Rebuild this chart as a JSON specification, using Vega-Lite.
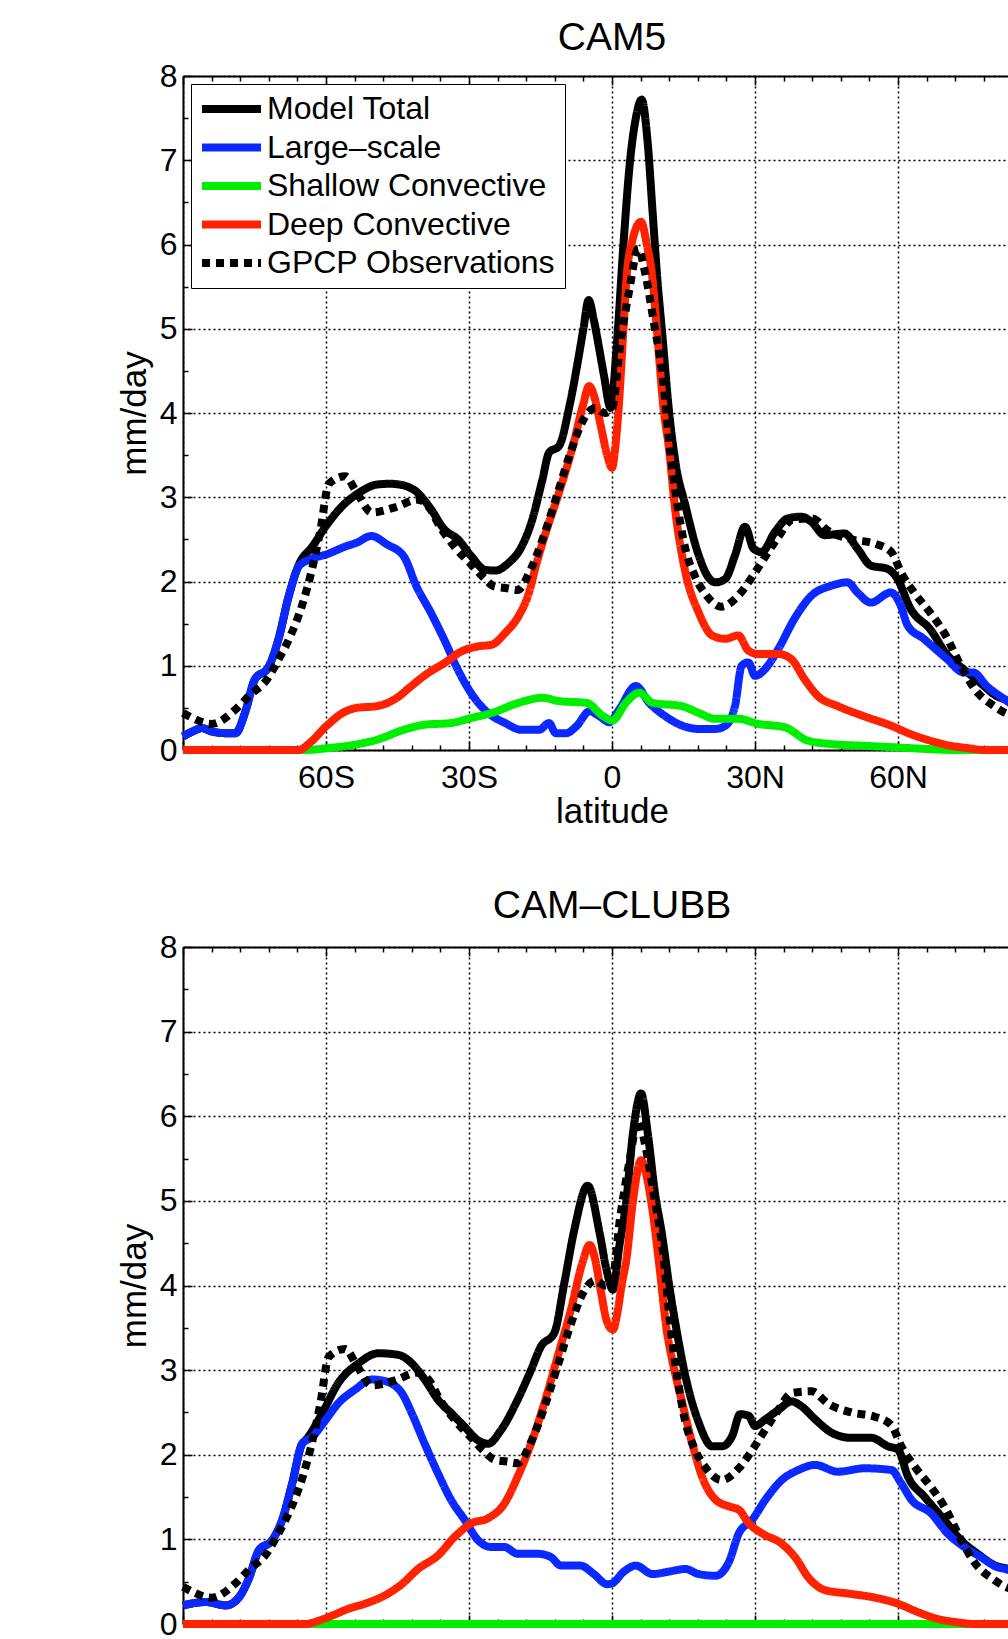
{
  "$schema": "https://vega.github.io/schema/vega-lite/v6.json",
  "background": "white",
  "padding": {"left": 117, "top": 19, "right": 0, "bottom": 0},
  "config": {
    "font": "Liberation Sans",
    "view": {"stroke": null},
    "line": {"strokeWidth": 8, "strokeJoin": "round", "interpolate": "monotone"},
    "axis": {
      "domainColor": "#000000", "domainWidth": 2, "tickColor": "#000000", "tickWidth": 1.5,
      "gridColor": "#000000", "gridDash": [2, 3], "gridWidth": 1.5, "gridOpacity": 1,
      "labelColor": "#000000", "labelFont": "Liberation Sans", "labelFontSize": 32,
      "titleFont": "Liberation Sans", "titleFontSize": 35, "titleFontWeight": "normal", "titleColor": "#000000",
      "labelFlush": false, "labelOverlap": false, "labelBound": false
    },
    "title": {"font": "Liberation Sans", "fontSize": 39, "fontWeight": "normal", "color": "#000000", "anchor": "middle", "baseline": "alphabetic"}
  },
  "datasets": {
    "cam5": [
      {"s":"T","lat":-90,"v":0.16},{"s":"T","lat":-88,"v":0.22},{"s":"T","lat":-86,"v":0.26},{"s":"T","lat":-84,"v":0.22},{"s":"T","lat":-81,"v":0.2},{"s":"T","lat":-79,"v":0.2},{"s":"T","lat":-77,"v":0.44},{"s":"T","lat":-75,"v":0.83},{"s":"T","lat":-72,"v":0.99},{"s":"T","lat":-70,"v":1.31},{"s":"T","lat":-67.8,"v":1.83},{"s":"T","lat":-65.7,"v":2.2},{"s":"T","lat":-62.8,"v":2.42},{"s":"T","lat":-60,"v":2.66},{"s":"T","lat":-56.5,"v":2.9},{"s":"T","lat":-52.9,"v":3.06},{"s":"T","lat":-49.4,"v":3.15},{"s":"T","lat":-46.5,"v":3.16},{"s":"T","lat":-43.7,"v":3.14},{"s":"T","lat":-40.9,"v":3.06},{"s":"T","lat":-38,"v":2.86},{"s":"T","lat":-35.2,"v":2.62},{"s":"T","lat":-32.3,"v":2.5},{"s":"T","lat":-29.5,"v":2.3},{"s":"T","lat":-26.7,"v":2.14},{"s":"T","lat":-24.5,"v":2.13},{"s":"T","lat":-21.7,"v":2.22},{"s":"T","lat":-18.9,"v":2.42},{"s":"T","lat":-16.7,"v":2.74},{"s":"T","lat":-14.6,"v":3.21},{"s":"T","lat":-13.2,"v":3.53},{"s":"T","lat":-11.1,"v":3.61},{"s":"T","lat":-8.9,"v":4.09},{"s":"T","lat":-7.2,"v":4.6},{"s":"T","lat":-6,"v":5.0},{"s":"T","lat":-4.9,"v":5.34},{"s":"T","lat":-3.8,"v":5.1},{"s":"T","lat":-2.8,"v":4.8},{"s":"T","lat":-1.7,"v":4.45},{"s":"T","lat":-0.3,"v":4.06},{"s":"T","lat":1,"v":4.8},{"s":"T","lat":2.4,"v":6.0},{"s":"T","lat":3.8,"v":7.0},{"s":"T","lat":5,"v":7.5},{"s":"T","lat":6.2,"v":7.72},{"s":"T","lat":7.5,"v":7.2},{"s":"T","lat":8.5,"v":6.4},{"s":"T","lat":9.5,"v":5.6},{"s":"T","lat":10.6,"v":4.9},{"s":"T","lat":12,"v":4.0},{"s":"T","lat":13.3,"v":3.42},{"s":"T","lat":15.4,"v":2.9},{"s":"T","lat":18.2,"v":2.31},{"s":"T","lat":20.2,"v":2.05},{"s":"T","lat":21.7,"v":1.99},{"s":"T","lat":23.75,"v":2.03},{"s":"T","lat":25.8,"v":2.31},{"s":"T","lat":27.9,"v":2.65},{"s":"T","lat":29.7,"v":2.39},{"s":"T","lat":31.4,"v":2.35},{"s":"T","lat":34.2,"v":2.59},{"s":"T","lat":36.9,"v":2.75},{"s":"T","lat":39.7,"v":2.77},{"s":"T","lat":41.8,"v":2.71},{"s":"T","lat":44.6,"v":2.55},{"s":"T","lat":48.75,"v":2.57},{"s":"T","lat":51.5,"v":2.39},{"s":"T","lat":54.3,"v":2.19},{"s":"T","lat":57.8,"v":2.15},{"s":"T","lat":59.9,"v":2.03},{"s":"T","lat":62.6,"v":1.68},{"s":"T","lat":66.8,"v":1.43},{"s":"T","lat":70.3,"v":1.13},{"s":"T","lat":73.75,"v":0.96},{"s":"T","lat":77.2,"v":0.8},{"s":"T","lat":80.7,"v":0.64},{"s":"T","lat":82.4,"v":0.6},{"s":"T","lat":85,"v":0.52},
      {"s":"L","lat":-90,"v":0.16},{"s":"L","lat":-88,"v":0.22},{"s":"L","lat":-86,"v":0.26},{"s":"L","lat":-84,"v":0.22},{"s":"L","lat":-81,"v":0.2},{"s":"L","lat":-79,"v":0.2},{"s":"L","lat":-77,"v":0.44},{"s":"L","lat":-75,"v":0.83},{"s":"L","lat":-72,"v":0.99},{"s":"L","lat":-70,"v":1.31},{"s":"L","lat":-67.8,"v":1.83},{"s":"L","lat":-65.7,"v":2.18},{"s":"L","lat":-63.5,"v":2.26},{"s":"L","lat":-60,"v":2.32},{"s":"L","lat":-55.7,"v":2.42},{"s":"L","lat":-53.6,"v":2.46},{"s":"L","lat":-50.5,"v":2.54},{"s":"L","lat":-47.2,"v":2.44},{"s":"L","lat":-43.7,"v":2.3},{"s":"L","lat":-41,"v":1.94},{"s":"L","lat":-38,"v":1.63},{"s":"L","lat":-35.2,"v":1.31},{"s":"L","lat":-32.3,"v":0.95},{"s":"L","lat":-29.5,"v":0.67},{"s":"L","lat":-26,"v":0.44},{"s":"L","lat":-22.4,"v":0.32},{"s":"L","lat":-19,"v":0.24},{"s":"L","lat":-15.3,"v":0.24},{"s":"L","lat":-13.2,"v":0.32},{"s":"L","lat":-11.8,"v":0.2},{"s":"L","lat":-9.6,"v":0.2},{"s":"L","lat":-7.5,"v":0.28},{"s":"L","lat":-4.7,"v":0.46},{"s":"L","lat":-2.6,"v":0.4},{"s":"L","lat":-0.6,"v":0.33},{"s":"L","lat":1.5,"v":0.48},{"s":"L","lat":5,"v":0.76},{"s":"L","lat":7.8,"v":0.56},{"s":"L","lat":11.2,"v":0.4},{"s":"L","lat":14.7,"v":0.29},{"s":"L","lat":18.2,"v":0.25},{"s":"L","lat":21.7,"v":0.25},{"s":"L","lat":23.8,"v":0.29},{"s":"L","lat":25.8,"v":0.52},{"s":"L","lat":27.2,"v":1.0},{"s":"L","lat":28.6,"v":1.04},{"s":"L","lat":30,"v":0.88},{"s":"L","lat":32.1,"v":0.96},{"s":"L","lat":34.9,"v":1.2},{"s":"L","lat":38.3,"v":1.56},{"s":"L","lat":41.8,"v":1.83},{"s":"L","lat":46,"v":1.95},{"s":"L","lat":49.4,"v":1.99},{"s":"L","lat":51.5,"v":1.87},{"s":"L","lat":54.3,"v":1.75},{"s":"L","lat":58.5,"v":1.87},{"s":"L","lat":60.6,"v":1.71},{"s":"L","lat":62,"v":1.48},{"s":"L","lat":65.4,"v":1.32},{"s":"L","lat":70.3,"v":1.08},{"s":"L","lat":73.8,"v":0.92},{"s":"L","lat":75.8,"v":0.92},{"s":"L","lat":78.6,"v":0.76},{"s":"L","lat":82.4,"v":0.6},{"s":"L","lat":85,"v":0.5},
      {"s":"S","lat":-90,"v":0},{"s":"S","lat":-64,"v":0},{"s":"S","lat":-60,"v":0.02},{"s":"S","lat":-54.3,"v":0.06},{"s":"S","lat":-49.4,"v":0.12},{"s":"S","lat":-43.7,"v":0.24},{"s":"S","lat":-39.4,"v":0.3},{"s":"S","lat":-33.8,"v":0.32},{"s":"S","lat":-29.5,"v":0.38},{"s":"S","lat":-25.2,"v":0.44},{"s":"S","lat":-19.6,"v":0.56},{"s":"S","lat":-14.6,"v":0.62},{"s":"S","lat":-11.1,"v":0.58},{"s":"S","lat":-5.4,"v":0.56},{"s":"S","lat":-1.8,"v":0.4},{"s":"S","lat":0.1,"v":0.35},{"s":"S","lat":2.9,"v":0.56},{"s":"S","lat":5.7,"v":0.68},{"s":"S","lat":8.5,"v":0.56},{"s":"S","lat":14.7,"v":0.52},{"s":"S","lat":18.2,"v":0.44},{"s":"S","lat":21.7,"v":0.37},{"s":"S","lat":26.5,"v":0.37},{"s":"S","lat":30.7,"v":0.31},{"s":"S","lat":36.25,"v":0.27},{"s":"S","lat":41.1,"v":0.11},{"s":"S","lat":46,"v":0.07},{"s":"S","lat":52.9,"v":0.05},{"s":"S","lat":59.9,"v":0.03},{"s":"S","lat":66.8,"v":0.01},{"s":"S","lat":72,"v":0},{"s":"S","lat":85,"v":0},
      {"s":"D","lat":-90,"v":0},{"s":"D","lat":-65.7,"v":0},{"s":"D","lat":-63.5,"v":0.08},{"s":"D","lat":-60,"v":0.28},{"s":"D","lat":-56.5,"v":0.44},{"s":"D","lat":-53.6,"v":0.5},{"s":"D","lat":-49.4,"v":0.52},{"s":"D","lat":-45.1,"v":0.62},{"s":"D","lat":-42.3,"v":0.75},{"s":"D","lat":-38.7,"v":0.91},{"s":"D","lat":-35.2,"v":1.03},{"s":"D","lat":-31.6,"v":1.17},{"s":"D","lat":-28.1,"v":1.23},{"s":"D","lat":-25.2,"v":1.25},{"s":"D","lat":-22.4,"v":1.39},{"s":"D","lat":-19.6,"v":1.59},{"s":"D","lat":-17.4,"v":1.87},{"s":"D","lat":-16,"v":2.18},{"s":"D","lat":-13.9,"v":2.58},{"s":"D","lat":-11.1,"v":3.06},{"s":"D","lat":-8.2,"v":3.61},{"s":"D","lat":-6.1,"v":4.09},{"s":"D","lat":-4.8,"v":4.32},{"s":"D","lat":-3.5,"v":4.15},{"s":"D","lat":-2.4,"v":3.86},{"s":"D","lat":-1,"v":3.5},{"s":"D","lat":0,"v":3.35},{"s":"D","lat":0.7,"v":3.6},{"s":"D","lat":1.4,"v":4.06},{"s":"D","lat":2.4,"v":5.0},{"s":"D","lat":3.1,"v":5.64},{"s":"D","lat":4.2,"v":6.03},{"s":"D","lat":6.1,"v":6.27},{"s":"D","lat":7.3,"v":6.0},{"s":"D","lat":8.4,"v":5.64},{"s":"D","lat":9.4,"v":5.0},{"s":"D","lat":10.8,"v":4.06},{"s":"D","lat":11.9,"v":3.6},{"s":"D","lat":13.3,"v":2.83},{"s":"D","lat":15.4,"v":2.11},{"s":"D","lat":18.2,"v":1.63},{"s":"D","lat":21,"v":1.36},{"s":"D","lat":23.75,"v":1.32},{"s":"D","lat":26.5,"v":1.36},{"s":"D","lat":28.6,"v":1.18},{"s":"D","lat":30.7,"v":1.14},{"s":"D","lat":34.9,"v":1.14},{"s":"D","lat":37.6,"v":1.08},{"s":"D","lat":40.4,"v":0.84},{"s":"D","lat":43.2,"v":0.64},{"s":"D","lat":47.4,"v":0.52},{"s":"D","lat":52.9,"v":0.4},{"s":"D","lat":58.5,"v":0.29},{"s":"D","lat":62.6,"v":0.19},{"s":"D","lat":66.8,"v":0.11},{"s":"D","lat":71,"v":0.05},{"s":"D","lat":75,"v":0.02},{"s":"D","lat":78,"v":0},{"s":"D","lat":85,"v":0}
    ],
    "clubb": [
      {"s":"T","lat":-90,"v":0.22},{"s":"T","lat":-85.2,"v":0.26},{"s":"T","lat":-81,"v":0.22},{"s":"T","lat":-78.2,"v":0.32},{"s":"T","lat":-76.1,"v":0.55},{"s":"T","lat":-74.1,"v":0.87},{"s":"T","lat":-71.3,"v":0.99},{"s":"T","lat":-69.2,"v":1.23},{"s":"T","lat":-67.1,"v":1.66},{"s":"T","lat":-65,"v":2.13},{"s":"T","lat":-64.3,"v":2.17},{"s":"T","lat":-60.8,"v":2.49},{"s":"T","lat":-57.4,"v":2.85},{"s":"T","lat":-53.2,"v":3.08},{"s":"T","lat":-49,"v":3.2},{"s":"T","lat":-44.8,"v":3.18},{"s":"T","lat":-42,"v":3.08},{"s":"T","lat":-39.3,"v":2.89},{"s":"T","lat":-36.5,"v":2.65},{"s":"T","lat":-33.7,"v":2.49},{"s":"T","lat":-30.9,"v":2.33},{"s":"T","lat":-28.1,"v":2.17},{"s":"T","lat":-26,"v":2.13},{"s":"T","lat":-23.3,"v":2.29},{"s":"T","lat":-19.8,"v":2.65},{"s":"T","lat":-17,"v":3.0},{"s":"T","lat":-14.9,"v":3.28},{"s":"T","lat":-12.1,"v":3.44},{"s":"T","lat":-10,"v":4.03},{"s":"T","lat":-7.9,"v":4.66},{"s":"T","lat":-5.1,"v":5.18},{"s":"T","lat":-2.6,"v":4.62},{"s":"T","lat":-1.2,"v":4.2},{"s":"T","lat":0.2,"v":3.95},{"s":"T","lat":1.5,"v":4.45},{"s":"T","lat":3,"v":5.0},{"s":"T","lat":4.4,"v":5.8},{"s":"T","lat":6.1,"v":6.27},{"s":"T","lat":7.5,"v":5.8},{"s":"T","lat":9,"v":5.1},{"s":"T","lat":10.5,"v":4.6},{"s":"T","lat":12,"v":4.0},{"s":"T","lat":13.4,"v":3.52},{"s":"T","lat":15.4,"v":2.93},{"s":"T","lat":18.2,"v":2.38},{"s":"T","lat":21,"v":2.1},{"s":"T","lat":23.1,"v":2.1},{"s":"T","lat":25.2,"v":2.22},{"s":"T","lat":26.9,"v":2.48},{"s":"T","lat":28.7,"v":2.46},{"s":"T","lat":30,"v":2.34},{"s":"T","lat":32.2,"v":2.42},{"s":"T","lat":34.9,"v":2.53},{"s":"T","lat":37.7,"v":2.63},{"s":"T","lat":39.8,"v":2.57},{"s":"T","lat":42.6,"v":2.42},{"s":"T","lat":46.1,"v":2.26},{"s":"T","lat":50.2,"v":2.2},{"s":"T","lat":54.4,"v":2.2},{"s":"T","lat":57.9,"v":2.1},{"s":"T","lat":60,"v":2.06},{"s":"T","lat":62.1,"v":1.74},{"s":"T","lat":65.6,"v":1.5},{"s":"T","lat":69.7,"v":1.23},{"s":"T","lat":73.2,"v":0.99},{"s":"T","lat":76.7,"v":0.83},{"s":"T","lat":80.9,"v":0.68},{"s":"T","lat":82.5,"v":0.66},{"s":"T","lat":85,"v":0.62},
      {"s":"L","lat":-90,"v":0.22},{"s":"L","lat":-85.2,"v":0.26},{"s":"L","lat":-81,"v":0.22},{"s":"L","lat":-78.2,"v":0.32},{"s":"L","lat":-76.1,"v":0.55},{"s":"L","lat":-74.1,"v":0.87},{"s":"L","lat":-71.3,"v":0.99},{"s":"L","lat":-69.2,"v":1.23},{"s":"L","lat":-67.1,"v":1.66},{"s":"L","lat":-65,"v":2.13},{"s":"L","lat":-62.9,"v":2.21},{"s":"L","lat":-60.1,"v":2.41},{"s":"L","lat":-57.4,"v":2.61},{"s":"L","lat":-53.9,"v":2.77},{"s":"L","lat":-50.4,"v":2.89},{"s":"L","lat":-47.6,"v":2.87},{"s":"L","lat":-44.1,"v":2.73},{"s":"L","lat":-42,"v":2.49},{"s":"L","lat":-39.3,"v":2.13},{"s":"L","lat":-36.5,"v":1.78},{"s":"L","lat":-33.7,"v":1.46},{"s":"L","lat":-30.9,"v":1.23},{"s":"L","lat":-28.1,"v":0.99},{"s":"L","lat":-25.3,"v":0.91},{"s":"L","lat":-22.6,"v":0.91},{"s":"L","lat":-19.8,"v":0.83},{"s":"L","lat":-15.6,"v":0.83},{"s":"L","lat":-12.8,"v":0.79},{"s":"L","lat":-10.7,"v":0.69},{"s":"L","lat":-6.6,"v":0.69},{"s":"L","lat":-3.8,"v":0.59},{"s":"L","lat":-1,"v":0.47},{"s":"L","lat":0,"v":0.48},{"s":"L","lat":2.5,"v":0.62},{"s":"L","lat":5,"v":0.69},{"s":"L","lat":8.5,"v":0.59},{"s":"L","lat":12,"v":0.62},{"s":"L","lat":15.4,"v":0.65},{"s":"L","lat":18.2,"v":0.59},{"s":"L","lat":21.7,"v":0.57},{"s":"L","lat":24.5,"v":0.73},{"s":"L","lat":26.6,"v":1.07},{"s":"L","lat":29.4,"v":1.23},{"s":"L","lat":32.2,"v":1.47},{"s":"L","lat":35.6,"v":1.7},{"s":"L","lat":39.1,"v":1.82},{"s":"L","lat":42.6,"v":1.88},{"s":"L","lat":47.4,"v":1.8},{"s":"L","lat":53,"v":1.84},{"s":"L","lat":58.6,"v":1.82},{"s":"L","lat":60.7,"v":1.66},{"s":"L","lat":62.8,"v":1.47},{"s":"L","lat":66.9,"v":1.31},{"s":"L","lat":70.4,"v":1.07},{"s":"L","lat":73.9,"v":0.91},{"s":"L","lat":77.4,"v":0.79},{"s":"L","lat":80.9,"v":0.67},{"s":"L","lat":82.5,"v":0.65},{"s":"L","lat":85,"v":0.6},
      {"s":"S","lat":-90,"v":0},{"s":"S","lat":0,"v":0},{"s":"S","lat":85,"v":0},
      {"s":"D","lat":-90,"v":0},{"s":"D","lat":-64.3,"v":0},{"s":"D","lat":-61.5,"v":0.04},{"s":"D","lat":-58.7,"v":0.1},{"s":"D","lat":-55.3,"v":0.18},{"s":"D","lat":-51.8,"v":0.24},{"s":"D","lat":-47.6,"v":0.34},{"s":"D","lat":-44.1,"v":0.47},{"s":"D","lat":-40.7,"v":0.65},{"s":"D","lat":-36.5,"v":0.81},{"s":"D","lat":-33,"v":1.03},{"s":"D","lat":-29.5,"v":1.19},{"s":"D","lat":-26,"v":1.25},{"s":"D","lat":-22.6,"v":1.42},{"s":"D","lat":-19.8,"v":1.74},{"s":"D","lat":-17,"v":2.13},{"s":"D","lat":-14.2,"v":2.61},{"s":"D","lat":-11.4,"v":3.16},{"s":"D","lat":-8.6,"v":3.72},{"s":"D","lat":-6.2,"v":4.27},{"s":"D","lat":-4.7,"v":4.48},{"s":"D","lat":-3.5,"v":4.3},{"s":"D","lat":-2.4,"v":3.95},{"s":"D","lat":-0.9,"v":3.55},{"s":"D","lat":0.2,"v":3.48},{"s":"D","lat":1.2,"v":3.7},{"s":"D","lat":2,"v":4.0},{"s":"D","lat":3,"v":4.3},{"s":"D","lat":4.4,"v":5.0},{"s":"D","lat":6.1,"v":5.48},{"s":"D","lat":7.6,"v":5.2},{"s":"D","lat":8.2,"v":5.0},{"s":"D","lat":10,"v":4.2},{"s":"D","lat":11.4,"v":3.5},{"s":"D","lat":12.7,"v":3.1},{"s":"D","lat":14.8,"v":2.6},{"s":"D","lat":16.8,"v":2.14},{"s":"D","lat":18.9,"v":1.74},{"s":"D","lat":21.7,"v":1.47},{"s":"D","lat":24.5,"v":1.39},{"s":"D","lat":26.6,"v":1.35},{"s":"D","lat":28.7,"v":1.19},{"s":"D","lat":31.5,"v":1.07},{"s":"D","lat":35.6,"v":0.95},{"s":"D","lat":38.4,"v":0.79},{"s":"D","lat":41.2,"v":0.55},{"s":"D","lat":44.7,"v":0.4},{"s":"D","lat":49.5,"v":0.36},{"s":"D","lat":54.4,"v":0.32},{"s":"D","lat":60,"v":0.24},{"s":"D","lat":64.2,"v":0.14},{"s":"D","lat":68.3,"v":0.06},{"s":"D","lat":72.5,"v":0.02},{"s":"D","lat":76,"v":0},{"s":"D","lat":85,"v":0}
    ],
    "gpcp": [
      {"s":"G","lat":-90,"v":0.44},{"s":"G","lat":-88,"v":0.38},{"s":"G","lat":-84,"v":0.31},{"s":"G","lat":-79,"v":0.48},{"s":"G","lat":-76,"v":0.65},{"s":"G","lat":-72.5,"v":0.83},{"s":"G","lat":-70,"v":1.07},{"s":"G","lat":-67.5,"v":1.35},{"s":"G","lat":-65,"v":1.72},{"s":"G","lat":-63,"v":2.13},{"s":"G","lat":-61.2,"v":2.6},{"s":"G","lat":-59.4,"v":3.16},{"s":"G","lat":-56,"v":3.25},{"s":"G","lat":-53.5,"v":3.05},{"s":"G","lat":-50.4,"v":2.82},{"s":"G","lat":-45.5,"v":2.88},{"s":"G","lat":-40.8,"v":2.97},{"s":"G","lat":-38,"v":2.85},{"s":"G","lat":-36.5,"v":2.69},{"s":"G","lat":-33,"v":2.41},{"s":"G","lat":-29.5,"v":2.2},{"s":"G","lat":-27,"v":2.05},{"s":"G","lat":-24.6,"v":1.94},{"s":"G","lat":-22,"v":1.92},{"s":"G","lat":-19.8,"v":1.9},{"s":"G","lat":-17,"v":2.15},{"s":"G","lat":-14.2,"v":2.56},{"s":"G","lat":-11.4,"v":3.05},{"s":"G","lat":-8.6,"v":3.55},{"s":"G","lat":-6,"v":3.92},{"s":"G","lat":-3.5,"v":4.06},{"s":"G","lat":-1.5,"v":4.0},{"s":"G","lat":0,"v":4.05},{"s":"G","lat":1.7,"v":4.8},{"s":"G","lat":3.6,"v":5.45},{"s":"G","lat":5.5,"v":5.95},{"s":"G","lat":7,"v":5.65},{"s":"G","lat":8.7,"v":5.1},{"s":"G","lat":10.7,"v":4.4},{"s":"G","lat":12.3,"v":3.5},{"s":"G","lat":13.5,"v":3.0},{"s":"G","lat":15.1,"v":2.46},{"s":"G","lat":17.5,"v":2.05},{"s":"G","lat":19.6,"v":1.85},{"s":"G","lat":23,"v":1.7},{"s":"G","lat":26.6,"v":1.84},{"s":"G","lat":29.7,"v":2.08},{"s":"G","lat":32.2,"v":2.3},{"s":"G","lat":34.9,"v":2.53},{"s":"G","lat":37.7,"v":2.73},{"s":"G","lat":41.9,"v":2.75},{"s":"G","lat":45.4,"v":2.6},{"s":"G","lat":50.2,"v":2.5},{"s":"G","lat":55.1,"v":2.45},{"s":"G","lat":58.6,"v":2.35},{"s":"G","lat":60.7,"v":2.1},{"s":"G","lat":63.5,"v":1.86},{"s":"G","lat":66.9,"v":1.62},{"s":"G","lat":69.7,"v":1.39},{"s":"G","lat":73.2,"v":1.0},{"s":"G","lat":76,"v":0.73},{"s":"G","lat":80.2,"v":0.52},{"s":"G","lat":82.5,"v":0.44},{"s":"G","lat":85,"v":0.4}
    ]
  },
  "spacing": 197,
  "bounds": "flush",
  "resolve": {"scale": {"x": "independent", "y": "independent", "color": "independent", "strokeDash": "independent"}, "legend": {"color": "independent", "strokeDash": "independent"}},
  "vconcat": [
    {
      "width": 858, "height": 674,
      "title": {"text": "CAM5", "offset": 2},
      "resolve": {"axis": {"x": "independent", "y": "independent"}},
      "layer": [
        {
          "data": {"name": "cam5"}, "transform": [{"filter": "datum.s == 'T'"}],
          "mark": {"type": "line"},
          "encoding": {
            "x": {"field": "lat", "type": "quantitative", "scale": {"domain": [-90, 90], "nice": false, "zero": false},
                  "axis": {"orient": "bottom", "values": [-90, -60, -30, 0, 30, 60, 90], "labelExpr": "abs(datum.value) == 90 ? '' : datum.value == 0 ? '0' : datum.value < 0 ? (-datum.value) + 'S' : datum.value + 'N'", "ticks": false, "grid": true, "domain": true, "labelPadding": 12, "title": "latitude", "titlePadding": 1}},
            "y": {"field": "v", "type": "quantitative", "scale": {"domain": [0, 8], "nice": false},
                  "axis": {"orient": "left", "values": [0, 1, 2, 3, 4, 5, 6, 7, 8], "ticks": false, "grid": true, "domain": true, "labelPadding": 6, "title": "mm/day", "titlePadding": 7}},
            "color": {"field": "s", "type": "nominal", "scale": {"domain": ["T", "L", "S", "D", "G"], "range": ["#000000", "#0a28ff", "#00ee00", "#ff2200", "#000000"]},
                      "legend": {"title": null, "orient": "top-left", "offset": 8, "padding": 9, "strokeColor": "#000000", "fillColor": "#ffffff", "labelFont": "Liberation Sans", "labelFontSize": 32, "labelColor": "#000000", "labelLimit": 0, "symbolType": "M-3,0H3", "symbolSize": 387, "symbolStrokeWidth": 12, "symbolOffset": 15.5, "labelOffset": 19.5, "rowPadding": 6.5,
                                 "labelExpr": "datum.value == 'T' ? 'Model Total' : datum.value == 'L' ? 'Large–scale' : datum.value == 'S' ? 'Shallow Convective' : datum.value == 'D' ? 'Deep Convective' : 'GPCP Observations'",
                                 "encode": {"symbols": {"update": {"strokeDash": {"signal": "datum.value == 'G' ? [12, 11] : [1, 0]"}}}, "legend": {"update": {"strokeWidth": {"value": 2}}}}}},
            "strokeDash": {"field": "s", "type": "nominal", "scale": {"domain": ["T", "L", "S", "D", "G"], "range": [[1, 0], [1, 0], [1, 0], [1, 0], [8, 6]]}}
          }
        },
        {
          "data": {"name": "cam5"}, "transform": [{"filter": "datum.s == 'L'"}],
          "mark": {"type": "line"},
          "encoding": {
            "x": {"field": "lat", "type": "quantitative", "axis": {"orient": "bottom", "values": [-90, -60, -30, 0, 30, 60, 90], "labels": false, "domain": false, "grid": false, "ticks": true, "tickSize": -9, "title": null}},
            "y": {"field": "v", "type": "quantitative", "axis": {"orient": "left", "values": [0, 1, 2, 3, 4, 5, 6, 7, 8], "labels": false, "domain": false, "grid": false, "ticks": true, "tickSize": -9, "title": null}},
            "color": {"field": "s", "type": "nominal"},
            "strokeDash": {"field": "s", "type": "nominal"}
          }
        },
        {
          "data": {"name": "cam5"}, "transform": [{"filter": "datum.s == 'S'"}],
          "mark": {"type": "line"},
          "encoding": {
            "x": {"field": "lat", "type": "quantitative", "axis": {"orient": "bottom", "values": [-84, -78, -72, -66, -54, -48, -42, -36, -24, -18, -12, -6, 6, 12, 18, 24, 36, 42, 48, 54, 66, 72, 78, 84], "labels": false, "domain": false, "grid": false, "ticks": true, "tickSize": -5, "title": null}},
            "y": {"field": "v", "type": "quantitative", "axis": {"orient": "left", "values": [0.5, 1.5, 2.5, 3.5, 4.5, 5.5, 6.5, 7.5], "labels": false, "domain": false, "grid": false, "ticks": true, "tickSize": -5, "title": null}},
            "color": {"field": "s", "type": "nominal"},
            "strokeDash": {"field": "s", "type": "nominal"}
          }
        },
        {
          "data": {"name": "cam5"}, "transform": [{"filter": "datum.s == 'D'"}],
          "mark": {"type": "line"},
          "encoding": {
            "x": {"field": "lat", "type": "quantitative", "axis": {"orient": "top", "values": [-90, -60, -30, 0, 30, 60, 90], "labels": false, "domain": true, "grid": false, "ticks": true, "tickSize": -9, "title": null}},
            "y": {"field": "v", "type": "quantitative", "axis": {"orient": "right", "values": [0, 1, 2, 3, 4, 5, 6, 7, 8], "labels": false, "domain": true, "grid": false, "ticks": true, "tickSize": -9, "title": null}},
            "color": {"field": "s", "type": "nominal"},
            "strokeDash": {"field": "s", "type": "nominal"}
          }
        },
        {
          "data": {"name": "gpcp"},
          "mark": {"type": "line"},
          "encoding": {
            "x": {"field": "lat", "type": "quantitative", "axis": {"orient": "top", "values": [-84, -78, -72, -66, -54, -48, -42, -36, -24, -18, -12, -6, 6, 12, 18, 24, 36, 42, 48, 54, 66, 72, 78, 84], "labels": false, "domain": false, "grid": false, "ticks": true, "tickSize": -5, "title": null}},
            "y": {"field": "v", "type": "quantitative", "axis": {"orient": "right", "values": [0.5, 1.5, 2.5, 3.5, 4.5, 5.5, 6.5, 7.5], "labels": false, "domain": false, "grid": false, "ticks": true, "tickSize": -5, "title": null}},
            "color": {"field": "s", "type": "nominal"},
            "strokeDash": {"field": "s", "type": "nominal"}
          }
        }
      ]
    },
    {
      "width": 858, "height": 677,
      "title": {"text": "CAM–CLUBB", "offset": 5},
      "resolve": {"axis": {"x": "independent", "y": "independent"}},
      "layer": [
        {
          "data": {"name": "clubb"}, "transform": [{"filter": "datum.s == 'T'"}],
          "mark": {"type": "line"},
          "encoding": {
            "x": {"field": "lat", "type": "quantitative", "scale": {"domain": [-90, 90], "nice": false, "zero": false},
                  "axis": {"orient": "bottom", "values": [-90, -60, -30, 0, 30, 60, 90], "labelExpr": "abs(datum.value) == 90 ? '' : datum.value == 0 ? '0' : datum.value < 0 ? (-datum.value) + 'S' : datum.value + 'N'", "ticks": false, "grid": true, "domain": true, "labelPadding": 12, "title": "latitude", "titlePadding": 1}},
            "y": {"field": "v", "type": "quantitative", "scale": {"domain": [0, 8], "nice": false},
                  "axis": {"orient": "left", "values": [0, 1, 2, 3, 4, 5, 6, 7, 8], "ticks": false, "grid": true, "domain": true, "labelPadding": 6, "title": "mm/day", "titlePadding": 7}},
            "color": {"field": "s", "type": "nominal", "scale": {"domain": ["T", "L", "S", "D", "G"], "range": ["#000000", "#0a28ff", "#00ee00", "#ff2200", "#000000"]}, "legend": null},
            "strokeDash": {"field": "s", "type": "nominal", "scale": {"domain": ["T", "L", "S", "D", "G"], "range": [[1, 0], [1, 0], [1, 0], [1, 0], [8, 6]]}, "legend": null}
          }
        },
        {
          "data": {"name": "clubb"}, "transform": [{"filter": "datum.s == 'L'"}],
          "mark": {"type": "line"},
          "encoding": {
            "x": {"field": "lat", "type": "quantitative", "axis": {"orient": "bottom", "values": [-90, -60, -30, 0, 30, 60, 90], "labels": false, "domain": false, "grid": false, "ticks": true, "tickSize": -9, "title": null}},
            "y": {"field": "v", "type": "quantitative", "axis": {"orient": "left", "values": [0, 1, 2, 3, 4, 5, 6, 7, 8], "labels": false, "domain": false, "grid": false, "ticks": true, "tickSize": -9, "title": null}},
            "color": {"field": "s", "type": "nominal", "legend": null},
            "strokeDash": {"field": "s", "type": "nominal", "legend": null}
          }
        },
        {
          "data": {"name": "clubb"}, "transform": [{"filter": "datum.s == 'S'"}],
          "mark": {"type": "line"},
          "encoding": {
            "x": {"field": "lat", "type": "quantitative", "axis": {"orient": "bottom", "values": [-84, -78, -72, -66, -54, -48, -42, -36, -24, -18, -12, -6, 6, 12, 18, 24, 36, 42, 48, 54, 66, 72, 78, 84], "labels": false, "domain": false, "grid": false, "ticks": true, "tickSize": -5, "title": null}},
            "y": {"field": "v", "type": "quantitative", "axis": {"orient": "left", "values": [0.5, 1.5, 2.5, 3.5, 4.5, 5.5, 6.5, 7.5], "labels": false, "domain": false, "grid": false, "ticks": true, "tickSize": -5, "title": null}},
            "color": {"field": "s", "type": "nominal", "legend": null},
            "strokeDash": {"field": "s", "type": "nominal", "legend": null}
          }
        },
        {
          "data": {"name": "clubb"}, "transform": [{"filter": "datum.s == 'D'"}],
          "mark": {"type": "line"},
          "encoding": {
            "x": {"field": "lat", "type": "quantitative", "axis": {"orient": "top", "values": [-90, -60, -30, 0, 30, 60, 90], "labels": false, "domain": true, "grid": false, "ticks": true, "tickSize": -9, "title": null}},
            "y": {"field": "v", "type": "quantitative", "axis": {"orient": "right", "values": [0, 1, 2, 3, 4, 5, 6, 7, 8], "labels": false, "domain": true, "grid": false, "ticks": true, "tickSize": -9, "title": null}},
            "color": {"field": "s", "type": "nominal", "legend": null},
            "strokeDash": {"field": "s", "type": "nominal", "legend": null}
          }
        },
        {
          "data": {"name": "gpcp"},
          "mark": {"type": "line"},
          "encoding": {
            "x": {"field": "lat", "type": "quantitative", "axis": {"orient": "top", "values": [-84, -78, -72, -66, -54, -48, -42, -36, -24, -18, -12, -6, 6, 12, 18, 24, 36, 42, 48, 54, 66, 72, 78, 84], "labels": false, "domain": false, "grid": false, "ticks": true, "tickSize": -5, "title": null}},
            "y": {"field": "v", "type": "quantitative", "axis": {"orient": "right", "values": [0.5, 1.5, 2.5, 3.5, 4.5, 5.5, 6.5, 7.5], "labels": false, "domain": false, "grid": false, "ticks": true, "tickSize": -5, "title": null}},
            "color": {"field": "s", "type": "nominal", "legend": null},
            "strokeDash": {"field": "s", "type": "nominal", "legend": null}
          }
        }
      ]
    }
  ]
}
